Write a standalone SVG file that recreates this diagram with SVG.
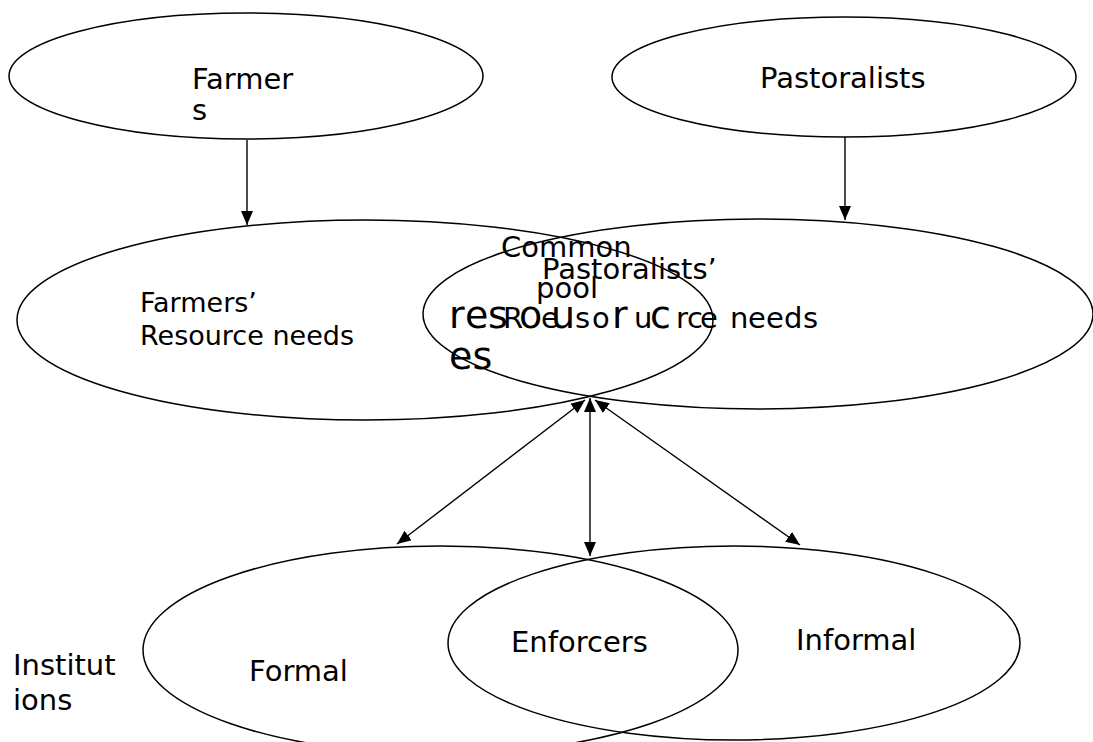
<svg xmlns="http://www.w3.org/2000/svg" width="1093" height="742" viewBox="0 0 1093 742">
<style>
.sh{fill:none;stroke:#000;stroke-width:1.5}
.t{font-family:"DejaVu Sans",sans-serif;font-size:29px;fill:#000}
.s27{font-size:27px}
.big{font-size:38px}
.ln{stroke:#000;stroke-width:1.4;fill:none}
</style>
<defs>
<marker id="ah" viewBox="0 0 14 12" refX="14" refY="6" markerWidth="14" markerHeight="12" markerUnits="userSpaceOnUse" orient="auto-start-reverse">
<path d="M0,0 L14,6 L0,12 Z" fill="#000"/>
</marker>
</defs>
<rect width="1093" height="742" fill="#fff"/>
<g id="farmers">
<ellipse class="sh" cx="246" cy="76" rx="237" ry="63"/>
<text class="t" x="192" y="89">Farmer</text>
<text class="t" x="192" y="120">s</text>
</g>
<g id="pastoralists">
<ellipse class="sh" cx="844" cy="77" rx="232" ry="60"/>
<text class="t" x="760" y="88">Pastoralists</text>
</g>
<g id="farmers-needs">
<ellipse class="sh" cx="365" cy="320" rx="348" ry="100"/>
<text class="t s27" x="140" y="312">Farmers’</text>
<text class="t s27" x="140" y="345">Resource needs</text>
</g>
<g id="pastoralists-needs">
<ellipse class="sh" cx="758" cy="314" rx="335" ry="95"/>
<text class="t" x="542" y="279">Pastoralists’</text>
<text class="t" x="503 541 575 592 634 676 687 700 718 730 748 766 784 803" y="328">Resource needs</text>
</g>
<g id="common-pool">
<text class="t" x="501" y="257">Common</text>
<text class="t" x="536" y="298">pool</text>
<text class="t big" x="449 465 488 519 551 612 650" y="328">resourc</text>
<text class="t big" x="449" y="369">es</text>
</g>
<g id="formal">
<ellipse class="sh" cx="440.5" cy="650" rx="297.5" ry="104"/>
<text class="t" x="249" y="681">Formal</text>
</g>
<g id="informal">
<ellipse class="sh" cx="734" cy="643" rx="286" ry="97"/>
<text class="t" x="796" y="650">Informal</text>
</g>
<g id="enforcers">
<text class="t" x="511" y="652">Enforcers</text>
</g>
<g id="institutions">
<text class="t" x="13" y="675">Institut</text>
<text class="t" x="13" y="710">ions</text>
</g>
<g id="connectors">
<line class="ln" x1="247" y1="140" x2="247" y2="225" marker-end="url(#ah)"/>
<line class="ln" x1="845" y1="137" x2="845" y2="220" marker-end="url(#ah)"/>
<line class="ln" x1="585" y1="400" x2="397" y2="544" marker-start="url(#ah)" marker-end="url(#ah)"/>
<line class="ln" x1="590" y1="398" x2="590" y2="556" marker-start="url(#ah)" marker-end="url(#ah)"/>
<line class="ln" x1="595" y1="400" x2="800" y2="545" marker-start="url(#ah)" marker-end="url(#ah)"/>
</g>
</svg>
